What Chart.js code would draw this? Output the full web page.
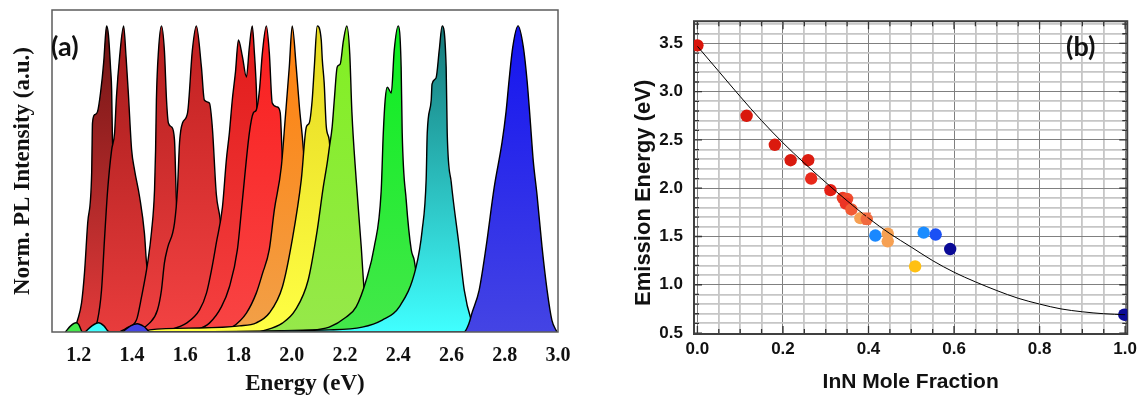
<!DOCTYPE html>
<html>
<head>
<meta charset="utf-8">
<script src="https://cdn.jsdelivr.net/npm/chart.js@4.4.1/dist/chart.umd.min.js"></script>
<style>
  body { margin: 0; background: #fff; }
  #wrap { position: relative; width: 1142px; height: 398px; overflow: hidden; }
  canvas { position: absolute; top: 0; }
  #pl { left: 0; }
  #fit { left: 575px; }
  .tag { position: absolute; font: 700 27px Lato, 'Open Sans', sans-serif; color: #111; line-height: 1; }
</style>
</head>
<body>
<div id="wrap">
  <canvas id="pl" width="575" height="398"></canvas>
  <canvas id="fit" width="567" height="398"></canvas>
  <div class="tag" style="left:51px;top:32px">(a)</div>
  <div class="tag" style="left:1066px;top:32px">(b)</div>
</div>
<script>
// ---- panel (a): normalised PL spectra (energy eV, intensity a.u.) ----
const spec1E = [1.166,1.185,1.196,1.211,1.222,1.234,1.249,1.252,1.26,1.271,1.282,1.294,1.301,1.305,1.312,1.32,1.324,1.327,1.339,1.354,1.369,1.391,1.421];
const spec1I = [0,0.013,0.039,0.095,0.193,0.356,0.52,0.683,0.71,0.72,0.78,0.88,0.97,1.0,0.97,0.86,0.79,0.63,0.43,0.235,0.105,0.023,0];
const spec2E = [1.222,1.252,1.271,1.286,1.297,1.309,1.324,1.335,1.342,1.354,1.369,1.378,1.387,1.399,1.41,1.429,1.447,1.455,1.474,1.496,1.526,1.56];
const spec2I = [0,0.007,0.039,0.137,0.301,0.464,0.595,0.65,0.768,0.90,1.0,0.90,0.775,0.595,0.529,0.441,0.323,0.225,0.121,0.046,0.007,0];
const spec3E = [1.354,1.38,1.417,1.436,1.459,1.474,1.485,1.489,1.492,1.5,1.511,1.522,1.53,1.537,1.549,1.56,1.567,1.579,1.597,1.624,1.654,1.691];
const spec3I = [0,0.013,0.039,0.114,0.225,0.33,0.464,0.595,0.758,0.92,1.0,0.92,0.758,0.683,0.67,0.627,0.431,0.268,0.137,0.046,0.007,0];
const spec4E = [1.391,1.429,1.466,1.496,1.511,1.522,1.534,1.56,1.571,1.579,1.59,1.609,1.627,1.642,1.661,1.672,1.691,1.702,1.717,1.729,1.747,1.766,1.796,1.834,1.871];
const spec4I = [0,0.007,0.029,0.072,0.137,0.225,0.275,0.356,0.464,0.62,0.683,0.716,0.92,1.0,0.866,0.758,0.748,0.669,0.45,0.383,0.268,0.137,0.046,0.007,0];
const spec5E = [1.504,1.541,1.605,1.654,1.68,1.699,1.717,1.74,1.755,1.766,1.777,1.789,1.8,1.815,1.83,1.841,1.852,1.86,1.867,1.871,1.879,1.897,1.924,1.961,2.01];
const spec5I = [0,0.007,0.029,0.072,0.127,0.203,0.291,0.408,0.565,0.65,0.758,0.85,0.954,0.9,0.833,0.93,1.0,0.912,0.801,0.693,0.627,0.333,0.137,0.04,0];
const spec6E = [1.597,1.642,1.691,1.736,1.766,1.796,1.815,1.841,1.856,1.867,1.879,1.89,1.905,1.916,1.927,1.946,1.957,1.965,1.972,1.991,2.014,2.047,2.096];
const spec6I = [0,0.007,0.029,0.082,0.147,0.268,0.431,0.65,0.716,0.725,0.79,0.912,1.0,0.912,0.748,0.735,0.716,0.57,0.53,0.30,0.137,0.04,0];
const spec7E = [1.729,1.777,1.83,1.867,1.89,1.916,1.935,1.961,1.976,1.991,2.002,2.017,2.029,2.04,2.059,2.081,2.104,2.141,2.197];
const spec7I = [0,0.016,0.062,0.127,0.19,0.27,0.40,0.539,0.70,0.866,1.0,0.866,0.735,0.637,0.431,0.235,0.105,0.023,0];
const spec8E = [1.45,1.466,1.654,1.804,1.867,1.916,1.965,2.002,2.036,2.055,2.066,2.077,2.085,2.096,2.111,2.115,2.122,2.13,2.141,2.149,2.164,2.186,2.216,2.254];
const spec8I = [0,0.007,0.013,0.02,0.03,0.062,0.147,0.301,0.497,0.67,0.683,0.758,0.866,1.0,0.954,0.889,0.814,0.67,0.627,0.529,0.333,0.137,0.04,0];
const spec9E = [1.879,1.965,2.014,2.062,2.096,2.118,2.133,2.141,2.152,2.16,2.171,2.182,2.194,2.207,2.218,2.226,2.242,2.261,2.272,2.29,2.32,2.35];
const spec9I = [0,0.029,0.072,0.17,0.333,0.47,0.55,0.60,0.67,0.758,0.866,0.875,0.95,1.0,0.91,0.72,0.50,0.28,0.14,0.055,0.01,0];
const spec10E = [1.15,1.17,1.19,1.20,1.215,1.30,2.077,2.141,2.205,2.242,2.28,2.31,2.336,2.344,2.351,2.359,2.374,2.385,2.40,2.411,2.415,2.43,2.449,2.46,2.479,2.509,2.554];
const spec10I = [0,0.02,0.03,0.025,0,0,0.007,0.016,0.049,0.082,0.17,0.278,0.46,0.65,0.758,0.80,0.781,0.92,1.0,0.866,0.65,0.431,0.268,0.235,0.121,0.039,0];
const spec11E = [1.225,1.25,1.275,1.295,1.315,1.40,2.141,2.265,2.34,2.404,2.467,2.49,2.505,2.509,2.524,2.527,2.542,2.554,2.565,2.58,2.584,2.599,2.629,2.648,2.674,2.696];
const spec11I = [0,0.02,0.03,0.02,0,0,0.007,0.016,0.039,0.082,0.212,0.333,0.50,0.65,0.758,0.81,0.83,0.92,1.0,0.866,0.65,0.49,0.278,0.137,0.039,0];
const spec12E = [1.365,1.395,1.42,1.445,1.47,1.55,2.647,2.666,2.677,2.704,2.73,2.76,2.79,2.805,2.816,2.83,2.85,2.87,2.884,2.895,2.907,2.921,2.94,2.959,2.977,2.996];
const spec12I = [0,0.02,0.027,0.018,0,0,0,0.029,0.062,0.137,0.278,0.47,0.62,0.72,0.82,0.93,1.0,0.93,0.82,0.70,0.56,0.45,0.278,0.137,0.039,0];
const energyTicks = [1.2, 1.4, 1.6, 1.8, 2.0, 2.2, 2.4, 2.6, 2.8, 3.0];

// top / bottom colour of each spectrum's fill
const specFill = [
  ['#6a1212', '#e23a3a'], ['#a01818', '#e83c3c'], ['#b01c1c', '#ee4040'],
  ['#bc1e1e', '#f24242'], ['#e01818', '#f44040'], ['#fa1c1c', '#f84444'],
  ['#ff7e08', '#f2a048'], ['#e4d61e', '#ffff44'], ['#80f020', '#96e84a'],
  ['#08ee1e', '#44e84a'], ['#137070', '#40ffff'], ['#1212f0', '#4444e4']
];

// ---- panel (b): emission energy vs InN mole fraction ----
const fraction = [0.0,0.115,0.181,0.218,0.259,0.266,0.311,0.340,0.350,0.347,0.36,0.381,0.396,0.416,0.445,0.445,0.509,0.529,0.557,0.591,0.998];
const emission = [3.48,2.75,2.45,2.29,2.29,2.10,1.98,1.90,1.89,1.84,1.78,1.69,1.68,1.51,1.53,1.45,1.19,1.54,1.52,1.37,0.69];
const dotColors = ['#d9140a','#d9180c','#db1a0e','#d91a0e','#db1c10','#e8281a','#e41e14','#ec3a24','#f04a2c','#ec3424','#f25a34',
  '#f6a052','#f26a3e','#1a88ff','#f6a052','#f6a052','#ffc012','#1a8cff','#1a50f5','#0a0a96','#0a0a96'];
const fitFraction = [0,0.05,0.1,0.15,0.2,0.25,0.3,0.35,0.4,0.45,0.5,0.55,0.6,0.65,0.7,0.75,0.8,0.85,0.9,0.95,1.0];
const fitEmission = [3.47,3.21,2.95,2.70,2.47,2.26,2.06,1.87,1.69,1.53,1.39,1.25,1.13,1.03,0.94,0.86,0.80,0.75,0.72,0.70,0.69];
const errFraction = [0.396];
const errLow = [1.63];
const errHigh = [1.74];
const fractionTicks = [0, 0.2, 0.4, 0.6, 0.8, 1.0];
const emissionTicks = [0.5, 1.0, 1.5, 2.0, 2.5, 3.0, 3.5];

const serif = "'Liberation Serif', 'Times New Roman', serif";
const sans = "'Liberation Sans', Arial, sans-serif";
const onStep = (v, step) => Math.abs(v / step - Math.round(v / step)) < 1e-6;
const inList = (v, list) => list.some(t => Math.abs(t - v) < 1e-6);

const specE = [spec1E, spec2E, spec3E, spec4E, spec5E, spec6E, spec7E, spec8E, spec9E, spec10E, spec11E, spec12E];
const specI = [spec1I, spec2I, spec3I, spec4I, spec5I, spec6I, spec7I, spec8I, spec9I, spec10I, spec11I, spec12I];

const plSets = specE.map((e, i) => ({
  data: e.map((x, k) => ({ x, y: specI[i][k] })),
  showLine: true,
  fill: 'origin',
  pointRadius: 0,
  borderColor: '#000',
  borderWidth: 1.4,
  cubicInterpolationMode: 'monotone',
  order: 20 - i,
  backgroundColor: ctx => {
    const a = ctx.chart.chartArea;
    if (!a) return specFill[i][1];
    const g = ctx.chart.ctx.createLinearGradient(0, a.top, 0, a.bottom);
    g.addColorStop(0, specFill[i][0]);
    g.addColorStop(1, specFill[i][1]);
    return g;
  }
}));

const boxA = {
  id: 'boxA',
  afterDatasetsDraw(chart) {
    const { ctx, chartArea: a } = chart;
    ctx.save();
    ctx.strokeStyle = '#5c5c5c';
    ctx.lineWidth = 1.5;
    ctx.strokeRect(a.left, a.top, a.right - a.left, a.bottom - a.top);
    ctx.restore();
  }
};

new Chart(document.getElementById('pl'), {
  type: 'scatter',
  data: { datasets: plSets },
  options: {
    responsive: false,
    animation: false,
    layout: { padding: { top: 10, right: 17, left: 0, bottom: 0 } },
    plugins: { legend: { display: false }, tooltip: { enabled: false } },
    scales: {
      x: {
        type: 'linear', min: 1.1, max: 3.0,
        afterFit: s => { s.height = 66; },
        afterBuildTicks: s => { s.ticks = energyTicks.map(v => ({ value: v })); },
        grid: { display: false }, border: { display: false },
        ticks: { padding: 4, autoSkip: false, maxRotation: 0, color: '#111',
          font: { family: serif, size: 20, weight: 'bold' }, callback: v => v.toFixed(1) },
        title: { display: true, text: 'Energy (eV)', color: '#111',
          font: { family: serif, size: 23, weight: 'bold' }, padding: { top: 0, bottom: 0 } }
      },
      y: {
        min: 0, max: 1.052,
        afterFit: s => { s.width = 52; },
        grid: { display: false }, border: { display: false },
        ticks: { display: false },
        title: { display: true, text: 'Norm. PL Intensity (a.u.)', color: '#111',
          font: { family: serif, size: 23, weight: 'bold' }, padding: { top: 9, bottom: 0 } }
      }
    }
  },
  plugins: [boxA]
});

const frameB = {
  id: 'frameB',
  beforeDatasetsDraw(chart) {
    const { ctx, chartArea: a, scales: { x, y } } = chart;
    ctx.save();
    ctx.strokeStyle = '#333';
    ctx.lineWidth = 1.3;
    ctx.beginPath();
    x.ticks.forEach(t => {
      const p = x.getPixelForValue(t.value);
      const len = onStep(t.value, 0.2) ? 8 : 5;
      ctx.moveTo(p, a.bottom); ctx.lineTo(p, a.bottom - len);
      ctx.moveTo(p, a.top); ctx.lineTo(p, a.top + len);
    });
    y.ticks.forEach(t => {
      const p = y.getPixelForValue(t.value);
      const len = onStep(t.value, 0.5) ? 8 : 5;
      ctx.moveTo(a.left, p); ctx.lineTo(a.left + len, p);
      ctx.moveTo(a.right, p); ctx.lineTo(a.right - len, p);
    });
    ctx.stroke();
    ctx.strokeStyle = '#404040';
    ctx.lineWidth = 2;
    ctx.strokeRect(a.left, a.top, a.right - a.left, a.bottom - a.top);
    ctx.restore();
  }
};

const errorBars = {
  id: 'errorBars',
  afterDatasetsDraw(chart) {
    const { ctx, scales: { x, y } } = chart;
    ctx.save();
    ctx.strokeStyle = '#f06a40';
    ctx.lineWidth = 1.5;
    errFraction.forEach((f, i) => {
      const px = x.getPixelForValue(f);
      const lo = y.getPixelForValue(errLow[i]);
      const hi = y.getPixelForValue(errHigh[i]);
      ctx.beginPath();
      ctx.moveTo(px, lo); ctx.lineTo(px, hi);
      ctx.moveTo(px - 4, lo); ctx.lineTo(px + 4, lo);
      ctx.moveTo(px - 4, hi); ctx.lineTo(px + 4, hi);
      ctx.stroke();
    });
    ctx.restore();
  }
};

new Chart(document.getElementById('fit'), {
  type: 'scatter',
  data: {
    datasets: [
      {
        data: fitFraction.map((x, k) => ({ x, y: fitEmission[k] })),
        showLine: true, pointRadius: 0, borderColor: '#000', borderWidth: 1,
        cubicInterpolationMode: 'monotone', order: 0
      },
      {
        data: fraction.map((x, k) => ({ x, y: emission[k] })),
        pointRadius: 6.2, pointBackgroundColor: dotColors, backgroundColor: dotColors,
        borderWidth: 0, order: 1
      }
    ]
  },
  options: {
    responsive: false,
    animation: false,
    layout: { padding: { top: 10, right: 13, left: 0, bottom: 0 } },
    plugins: { legend: { display: false }, tooltip: { enabled: false } },
    scales: {
      x: {
        type: 'linear', min: -0.008, max: 1.005,
        afterFit: s => { s.height = 64; },
        border: { display: false },
        grid: {
          drawTicks: false,
          color: c => (c.tick && onStep(c.tick.value, 0.2)) ? '#808080' : '#c6c6c6',
          lineWidth: c => (c.tick && onStep(c.tick.value, 0.2)) ? 1 : 1.8
        },
        ticks: { stepSize: 0.05, includeBounds: false, padding: 5, autoSkip: false, maxRotation: 0, color: '#111',
          font: { family: sans, size: 17, weight: 'bold' },
          callback: v => inList(v, fractionTicks) ? v.toFixed(1) : '' },
        title: { display: true, text: 'InN Mole Fraction', color: '#111',
          font: { family: sans, size: 21, weight: 'bold' }, padding: { top: 0, bottom: 3 } }
      },
      y: {
        min: 0.49, max: 3.73,
        afterFit: s => { s.width = 119; },
        border: { display: false },
        grid: {
          drawTicks: false,
          color: c => (c.tick && onStep(c.tick.value, 0.5)) ? '#808080' : '#c6c6c6',
          lineWidth: c => (c.tick && onStep(c.tick.value, 0.5)) ? 1 : 1.8
        },
        ticks: { stepSize: 0.1, includeBounds: false, padding: 11, autoSkip: false, color: '#111',
          font: { family: sans, size: 17, weight: 'bold' },
          callback: v => inList(v, emissionTicks) ? v.toFixed(1) : '' },
        title: { display: true, text: 'Emission Energy (eV)\u00a0\u00a0\u00a0\u00a0\u00a0', color: '#111',
          font: { family: sans, size: 22, weight: 'bold' }, padding: { top: 56, bottom: 0 } }
      }
    }
  },
  plugins: [frameB, errorBars]
});
</script>
</body>
</html>
